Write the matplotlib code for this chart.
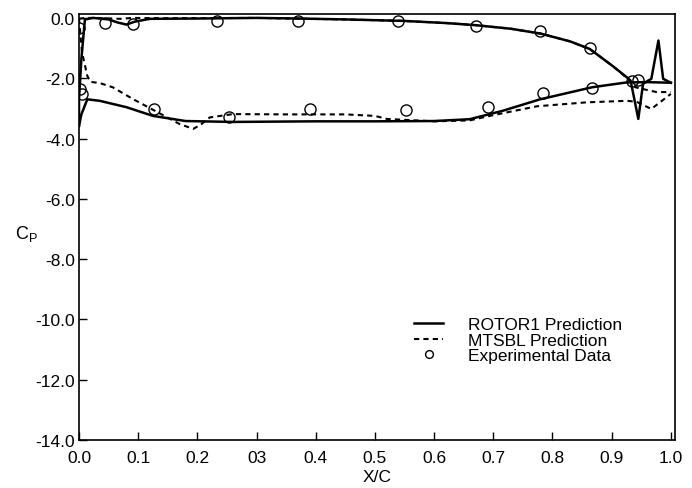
import matplotlib

matplotlib.use("Agg")

import matplotlib.pyplot as plt


# ---------------------------------------------------------------------------
# Data
# ---------------------------------------------------------------------------

# ROTOR1 prediction (solid): upper branch from LE to TE, with the TE spikes
rotor_upper_x = [0.0, 0.0, 0.004, 0.01, 0.024, 0.05, 0.065, 0.08, 0.095, 0.12,
                 0.2, 0.3, 0.37, 0.45, 0.55, 0.62, 0.67, 0.73, 0.78, 0.83,
                 0.863, 0.902, 0.925, 0.932, 0.945, 0.953, 0.96, 0.967,
                 0.979, 0.987, 1.0]
rotor_upper_y = [-3.58, -2.7, -1.36, -0.05, 0.0, -0.05, -0.15, -0.22, -0.12, -0.03,
                 -0.02, 0.0, -0.02, -0.05, -0.1, -0.17, -0.24, -0.36, -0.52, -0.78,
                 -1.03, -1.6, -1.96, -2.08, -3.35, -2.19, -2.1, -2.02,
                 -0.75, -2.02, -2.15]

# ROTOR1 prediction (solid): lower branch
rotor_lower_x = [0.0, 0.004, 0.014, 0.035, 0.08, 0.125, 0.18, 0.26, 0.4, 0.5,
                 0.6, 0.66, 0.716, 0.779, 0.867, 0.925, 0.96, 1.0]
rotor_lower_y = [-3.58, -3.2, -2.7, -2.75, -2.96, -3.25, -3.42, -3.45, -3.43, -3.43,
                 -3.42, -3.36, -3.08, -2.7, -2.3, -2.14, -2.13, -2.15]

# MTSBL prediction (dashed): upper branch
mtsbl_upper_x = [0.0, 0.01, 0.03, 0.07, 0.09, 0.15, 0.3, 0.45, 0.55, 0.62,
                 0.67, 0.73, 0.78, 0.83, 0.863, 0.902, 0.925, 0.94, 0.953,
                 0.976, 1.0]
mtsbl_upper_y = [-0.03, 0.0, 0.0, -0.03, 0.0, -0.01, 0.0, -0.05, -0.1, -0.17,
                 -0.24, -0.36, -0.52, -0.78, -1.03, -1.6, -1.98, -2.3, -2.36,
                 -2.46, -2.46]

# MTSBL prediction (dashed): lower branch
mtsbl_lower_x = [0.0, 0.002, 0.005, 0.014, 0.019, 0.035, 0.057, 0.091, 0.132, 0.17,
                 0.193, 0.205, 0.221, 0.26, 0.35, 0.45, 0.5, 0.52, 0.6, 0.66,
                 0.694, 0.774, 0.858, 0.925, 0.942, 0.967, 1.0]
mtsbl_lower_y = [-0.03, -0.47, -1.13, -1.92, -2.12, -2.16, -2.3, -2.69, -3.12, -3.52,
                 -3.68, -3.55, -3.3, -3.19, -3.2, -3.2, -3.25, -3.35, -3.43, -3.4,
                 -3.25, -2.93, -2.8, -2.75, -2.78, -3.02, -2.52]

# Experimental data (open circles)
exp_x = [0.0, 0.044, 0.091, 0.233, 0.37, 0.539, 0.671, 0.779, 0.863, 0.934, 0.944,
         0.002, 0.005, 0.127, 0.253, 0.39, 0.552, 0.691, 0.784, 0.867]
exp_y = [-0.33, -0.17, -0.2, -0.1, -0.1, -0.1, -0.27, -0.43, -1.0, -2.09, -2.06,
         -2.36, -2.52, -3.02, -3.28, -3.02, -3.05, -2.95, -2.49, -2.32]

x_ticks = [0.0, 0.1, 0.2, 0.3, 0.4, 0.5, 0.6, 0.7, 0.8, 0.9, 1.0]
x_tick_labels = ["0.0", "0.1", "0.2", "03", "0.4", "0.5", "0.6", "0.7", "0.8", "0.9", "1.0"]
y_ticks = [0.0, -2.0, -4.0, -6.0, -8.0, -10.0, -12.0, -14.0]
y_tick_labels = ["0.0", "-2.0", "-4.0", "-6.0", "-8.0", "-10.0", "-12.0", "-14.0"]


# ---------------------------------------------------------------------------
# Plot
# ---------------------------------------------------------------------------

plt.rcParams["font.family"] = ["Liberation Sans", "DejaVu Sans"]
plt.rcParams["mathtext.fontset"] = "custom"
plt.rcParams["mathtext.rm"] = "Liberation Sans"

fig = plt.figure(figsize=(6.92, 4.89), dpi=100)
ax = fig.add_axes([79 / 692, 1 - 441 / 489, (675 - 79) / 692, (441 - 15) / 489])

dash = (0, (2.5, 2.0))

ax.plot(rotor_upper_x, rotor_upper_y, color="black", lw=1.8, label="ROTOR1 Prediction")
ax.plot(rotor_lower_x, rotor_lower_y, color="black", lw=1.8)
ax.plot(mtsbl_upper_x, mtsbl_upper_y, color="black", lw=1.5, linestyle=dash,
        label="MTSBL Prediction")
ax.plot(mtsbl_lower_x, mtsbl_lower_y, color="black", lw=1.5, linestyle=dash)
ax.plot(exp_x, exp_y, linestyle="none", marker="o", markersize=8,
        markerfacecolor="none", markeredgecolor="black", markeredgewidth=1.0,
        label="Experimental Data")

ax.set_xlim(0.0, 1.007)
ax.set_ylim(-14.0, 0.13)

ax.set_xticks(x_ticks)
ax.set_xticklabels(x_tick_labels)
ax.set_yticks(y_ticks)
ax.set_yticklabels(y_tick_labels)
ax.tick_params(direction="in", length=6, width=1, labelsize=12.5,
               top=False, right=False)
ax.tick_params(axis="x", pad=7)
ax.tick_params(axis="y", pad=3)

for spine in ax.spines.values():
    spine.set_linewidth(1.2)

ax.set_xlabel("X/C", fontsize=12.5, labelpad=3)
fig.text(26 / 692, 1 - 234 / 489, r"C$_\mathrm{P}$", fontsize=13,
         ha="center", va="center")

ax.legend(loc="upper left", bbox_to_anchor=(0.55, 0.305), frameon=False,
          fontsize=12.5, handlelength=1.7, handletextpad=1.45, labelspacing=0.02,
          markerscale=0.7, borderaxespad=0)

fig.savefig("out.png", dpi=100)
plt.close(fig)
